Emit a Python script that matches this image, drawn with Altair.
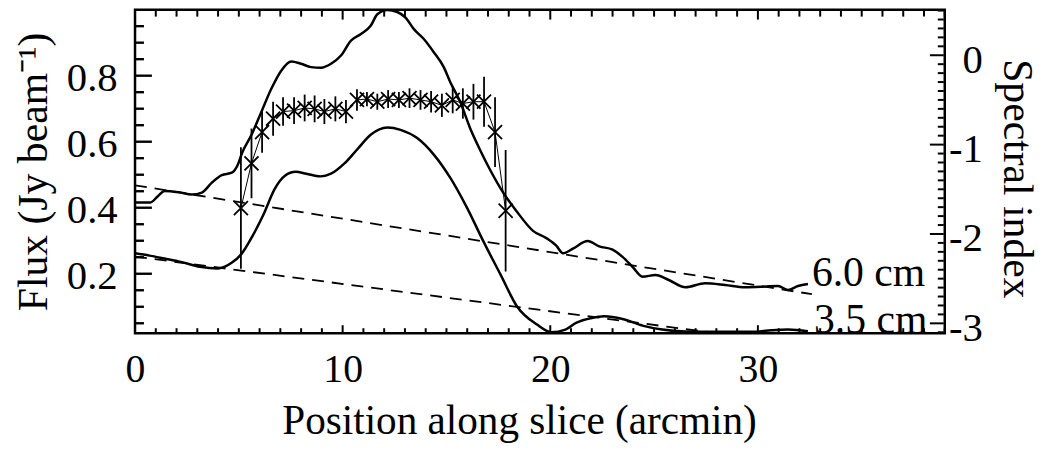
import altair as alt
import pandas as pd

# ---------------- data ----------------
pos_6cm = [0.0, 0.74, 1.1, 1.42, 2.11, 2.74, 3.22, 3.70, 4.18, 4.66, 4.95, 5.15, 5.61, 6.09,
           6.57, 7.05, 7.53, 8.00, 8.48, 8.96, 9.44, 9.92, 10.40, 10.88, 11.35, 11.67, 12.15,
           12.63, 13.03, 13.43, 13.91, 14.39, 14.87, 15.18, 15.66, 16.14, 16.62, 17.10, 17.74,
           18.37, 19.17, 19.81, 20.29, 20.61, 21.09, 21.80, 22.36, 23.0, 23.48, 23.96, 24.44,
           25.07, 25.71, 26.51, 27.46, 28.42, 29.38, 30.33, 30.97, 31.45, 31.93, 32.41]
flux_6cm = [0.416, 0.416, 0.435, 0.451, 0.447, 0.440, 0.446, 0.476, 0.499, 0.506, 0.530, 0.565,
            0.621, 0.691, 0.761, 0.816, 0.843, 0.836, 0.826, 0.824, 0.836, 0.861, 0.906, 0.926,
            0.951, 0.986, 0.999, 0.993, 0.976, 0.941, 0.911, 0.871, 0.826, 0.781, 0.721, 0.641,
            0.575, 0.515, 0.445, 0.390, 0.330, 0.308, 0.285, 0.262, 0.276, 0.299, 0.283, 0.273,
            0.251, 0.221, 0.191, 0.196, 0.181, 0.159, 0.171, 0.166, 0.159, 0.161, 0.163, 0.151,
            0.163, 0.169]

pos_35cm = [0.0, 0.7, 1.42, 2.2, 3.13, 3.98, 4.67, 5.1, 5.69, 6.2, 6.71, 7.22, 7.74, 8.25, 8.93,
            9.44, 10.1, 10.72, 11.35, 12.15, 12.79, 13.59, 14.39, 15.18, 15.98, 16.78, 17.6,
            18.4, 19.36, 20.05, 20.73, 21.24, 22.0, 22.6, 23.48, 24.44, 25.39, 26.51, 28.10,
            29.70, 30.66, 31.45, 32.41]
flux_35cm = [0.262, 0.255, 0.246, 0.236, 0.221, 0.216, 0.234, 0.258, 0.318, 0.381, 0.455, 0.497,
             0.509, 0.503, 0.495, 0.503, 0.535, 0.578, 0.621, 0.643, 0.636, 0.611, 0.561, 0.491,
             0.401, 0.298, 0.198, 0.101, 0.046, 0.023, 0.031, 0.051, 0.066, 0.071, 0.063, 0.043,
             0.031, 0.025, 0.024, 0.024, 0.029, 0.031, 0.026]

base6_pos = [0.0, 32.6]
base6_flux = [0.468, 0.138]
base35_pos = [0.0, 32.6]
base35_flux = [0.252, -0.018]

si_pos = [5.10, 5.61, 6.12, 6.65, 7.13, 7.66, 8.17, 8.65, 9.12, 9.65, 10.16, 10.69, 11.17,
          11.67, 12.19, 12.71, 13.22, 13.75, 14.26, 14.78, 15.30, 15.79, 16.30, 16.81, 17.34, 17.85]
si_val = [-1.71, -1.21, -0.86, -0.71, -0.63, -0.62, -0.59, -0.60, -0.63, -0.60, -0.63, -0.50,
          -0.49, -0.52, -0.49, -0.50, -0.48, -0.50, -0.52, -0.56, -0.50, -0.54, -0.52, -0.52,
          -0.86, -1.74]
si_err = [0.68, 0.39, 0.23, 0.19, 0.16, 0.15, 0.15, 0.15, 0.14, 0.14, 0.13, 0.12, 0.08, 0.09,
          0.10, 0.09, 0.11, 0.11, 0.12, 0.13, 0.15, 0.17, 0.20, 0.28, 0.39, 0.68]

x_major = [0, 10, 20, 30]
x_minor = [v for v in range(0, 40) if v % 10 != 0]
flux_major = [0.2, 0.4, 0.6, 0.8]
flux_minor = [round(0.05 * k, 2) for k in range(1, 20) if k % 4 != 0]
si_major = [-3, -2, -1, 0]
si_minor = [round(-3.1 + 0.1 * k, 1) for k in range(0, 37)
            if round(-3.1 + 0.1 * k, 1) not in (-3.0, -2.0, -1.0, 0.0)]

# ---------------- chart ----------------
W, H = 816, 326
FONT = "Liberation Serif"

xscale = alt.Scale(domain=[0, 39], nice=False, zero=False)
fscale = alt.Scale(domain=[0.02, 1.0], nice=False, zero=False)
sscale = alt.Scale(domain=[-3.11, 0.51], nice=False, zero=False)

xaxis = alt.Axis(values=x_major, format="d", labelPadding=49, labelBaseline="alphabetic",
                 labelFlush=False, labelOverlap=False, labelFontSize=40,
                 title="Position along slice (arcmin)", titleX=387, titleY=101,
                 titleAlign="center", titleBaseline="alphabetic", titleFontSize=41.5)
faxis = alt.Axis(orient="left", values=flux_major, format=".1f", labelPadding=18,
                 labelAlign="right", labelBaseline="alphabetic", labelOffset=15,
                 labelFlush=False, labelOverlap=False, labelFontSize=41,
                 title="Flux (Jy beam⁻¹)", titleAngle=270, titleX=-89, titleY=163,
                 titleAlign="center", titleBaseline="alphabetic", titleFontSize=42)
saxis = alt.Axis(orient="right", values=si_major,
                 labelExpr="datum.value < 0 ? '-' + toString(-datum.value) : toString(datum.value)",
                 labelPadding=38, labelAlign="right", labelBaseline="alphabetic", labelOffset=17,
                 labelFlush=False, labelOverlap=False, labelFontSize=41,
                 title="Spectral index", titleAngle=90, titleX=59, titleY=170,
                 titleAlign="center", titleBaseline="alphabetic", titleFontSize=42)


def X(field):
    return alt.X(field, type="quantitative", scale=xscale, axis=xaxis)


def YF(field):
    return alt.Y(field, type="quantitative", scale=fscale, axis=faxis)


def YS(field):
    return alt.Y(field, type="quantitative", scale=sscale, axis=saxis)


df6 = pd.DataFrame({"pos": pos_6cm, "flux": flux_6cm})
df35 = pd.DataFrame({"pos": pos_35cm, "flux": flux_35cm})
dfb6 = pd.DataFrame({"pos": base6_pos, "flux": base6_flux})
dfb35 = pd.DataFrame({"pos": base35_pos, "flux": base35_flux})
dfsi = pd.DataFrame({"pos": si_pos, "si": si_val, "err": si_err})
dfsi["lo"] = dfsi["si"] - dfsi["err"]
dfsi["hi"] = dfsi["si"] + dfsi["err"]

curve6 = alt.Chart(df6).mark_line(color="black", strokeWidth=2.5, interpolate="monotone", clip=True).encode(
    x=X("pos"), y=YF("flux"))
curve35 = alt.Chart(df35).mark_line(color="black", strokeWidth=2.5, interpolate="monotone", clip=True).encode(
    x=X("pos"), y=YF("flux"))
dash6 = alt.Chart(dfb6).mark_line(color="black", strokeWidth=1.8, strokeDash=[12, 8], clip=True).encode(
    x=X("pos"), y=YF("flux"))
dash35 = alt.Chart(dfb35).mark_line(color="black", strokeWidth=1.8, strokeDash=[12, 8], clip=True).encode(
    x=X("pos"), y=YF("flux"))

lab6 = alt.Chart(df6.head(1)).mark_text(text="6.0 cm", font=FONT, fontSize=42, align="left",
                                        baseline="alphabetic", color="black").encode(
    x=alt.X(datum=32.6, type="quantitative", scale=xscale, axis=xaxis),
    y=alt.Y(datum=0.163, type="quantitative", scale=fscale, axis=faxis))
lab35 = alt.Chart(df6.head(1)).mark_text(text="3.5 cm", font=FONT, fontSize=42, align="left",
                                         baseline="alphabetic", color="black").encode(
    x=alt.X(datum=32.7, type="quantitative", scale=xscale, axis=xaxis),
    y=alt.Y(datum=0.022, type="quantitative", scale=fscale, axis=faxis))


# frame ticks, pointing into the plot
def bottom_ticks(vals, length):
    d = pd.DataFrame({"tb": vals})
    return alt.Chart(d).mark_rule(color="black", strokeWidth=2).encode(
        x=X("tb"), y=alt.value(H - 1), y2=alt.value(H - length))


def top_ticks(vals, length):
    d = pd.DataFrame({"tt": vals})
    return alt.Chart(d).mark_rule(color="black", strokeWidth=2).encode(
        x=X("tt"), y=alt.value(1), y2=alt.value(length))


def left_ticks(vals, length):
    d = pd.DataFrame({"tl": vals})
    return alt.Chart(d).mark_rule(color="black", strokeWidth=2.4).encode(
        y=YF("tl"), x=alt.value(1), x2=alt.value(length))


flux_layer = alt.layer(
    dash6, dash35, curve6, curve35,
    bottom_ticks(x_minor, 5), bottom_ticks(x_major, 8),
    top_ticks(x_minor, 7), top_ticks(x_major, 10),
    left_ticks(flux_major, 17), left_ticks(flux_minor, 9),
    lab6, lab35,
)

errbars = alt.Chart(dfsi).mark_rule(color="black", strokeWidth=1.8).encode(
    x=X("pos"), y=YS("lo"), y2=alt.Y2("hi"))
siline = alt.Chart(dfsi).mark_line(color="black", strokeWidth=1).encode(x=X("pos"), y=YS("si"))
crosses = alt.Chart(dfsi).mark_point(shape="M-1,-1L1,1M-1,1L1,-1", filled=False, color="black",
                                     strokeWidth=1.8, size=200, opacity=1).encode(
    x=X("pos"), y=YS("si"))
sticks_major = alt.Chart(pd.DataFrame({"ts": si_major})).mark_rule(color="black", strokeWidth=2).encode(
    y=YS("ts"), x=alt.value(W - 1), x2=alt.value(W - 15))
sticks_minor = alt.Chart(pd.DataFrame({"ts": si_minor})).mark_rule(color="black", strokeWidth=2).encode(
    y=YS("ts"), x=alt.value(W - 1), x2=alt.value(W - 7))

si_layer = alt.layer(errbars, siline, crosses, sticks_major, sticks_minor)

chart = alt.layer(flux_layer, si_layer).resolve_scale(y="independent").properties(
    width=W, height=H,
    autosize=alt.AutoSizeParams(type="none"),
    padding={"left": 128, "top": 0, "right": 99, "bottom": 110},
    background="white",
).configure_view(stroke="black", strokeWidth=2.5).configure_axis(
    grid=False, domain=False, ticks=False, tickSize=0,
    labelFont=FONT, labelFontSize=40, labelColor="black",
    titleFont=FONT, titleFontSize=41, titleFontWeight="normal", titleColor="black",
)

chart.save("out.html", embed_options={"renderer": "svg", "actions": False})
